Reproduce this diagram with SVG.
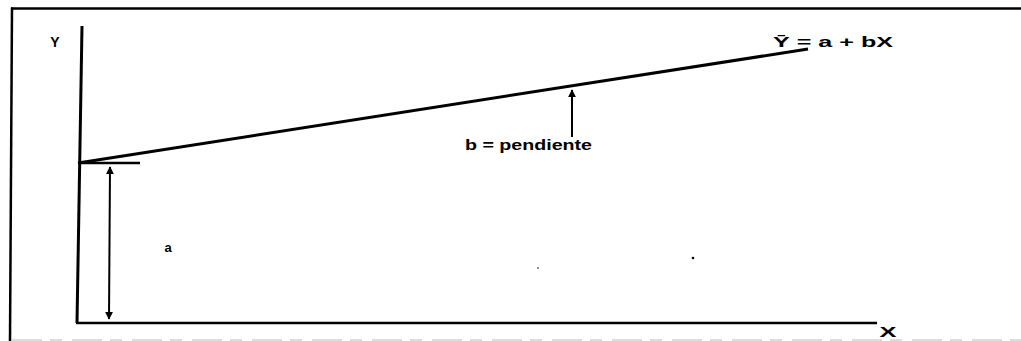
<svg xmlns="http://www.w3.org/2000/svg" width="1021" height="341" viewBox="0 0 1021 341">
<style>
.ln{stroke:#000;fill:none;stroke-linecap:butt}
.t{font-family:"Liberation Sans",Arial,sans-serif;font-weight:bold;fill:#000}
</style>
<defs>
<marker id="ah" viewBox="0 0 10 10" refX="9" refY="5" markerWidth="4" markerHeight="4" orient="auto-start-reverse" markerUnits="strokeWidth">
<path d="M0,0 L10,5 L0,10 z" fill="#000"/>
</marker>
</defs>
<rect width="1021" height="341" fill="#fff"/>
<g id="frame">
<line class="ln" x1="11" y1="8.5" x2="1021" y2="8.5" stroke-width="2.5"/>
<line class="ln" x1="12" y1="7.5" x2="10" y2="341" stroke-width="2.5"/>
<line x1="12" y1="340" x2="1021" y2="340" stroke="#bbb" stroke-width="1" stroke-dasharray="30 8 12 10"/>
</g>
<g id="axes">
<line class="ln" x1="82" y1="26" x2="77" y2="323" stroke-width="3"/>
<line class="ln" x1="76" y1="323" x2="877" y2="323" stroke-width="2.5"/>
<text class="t" x="55" y="47" font-size="14" text-anchor="middle">Y</text>
<text class="t" x="888" y="337" font-size="15" text-anchor="middle" textLength="17" lengthAdjust="spacingAndGlyphs">X</text>
</g>
<g id="regression-line">
<line class="ln" x1="78" y1="163" x2="808" y2="49" stroke-width="3"/>
<text class="t" x="773" y="47" font-size="15" textLength="120" lengthAdjust="spacingAndGlyphs">Ȳ = a + bX</text>
</g>
<g id="intercept">
<line class="ln" x1="79" y1="163" x2="140" y2="163" stroke-width="2.5"/>
<text class="t" x="168" y="252" font-size="13" text-anchor="middle">a</text>
</g>
<g id="slope-label">
<text class="t" x="465" y="150" font-size="14" textLength="127" lengthAdjust="spacingAndGlyphs">b = pendiente</text>
</g>
<g id="connectors">
<line class="ln" x1="109" y1="319" x2="110" y2="167" stroke-width="2" marker-start="url(#ah)" marker-end="url(#ah)"/>
<line class="ln" x1="572" y1="137" x2="572" y2="90" stroke-width="2" marker-end="url(#ah)"/>
</g>
<g id="specks" fill="#000">
<circle cx="693" cy="258" r="1.3"/>
<circle cx="538" cy="268" r="0.8"/>
</g>
</svg>
